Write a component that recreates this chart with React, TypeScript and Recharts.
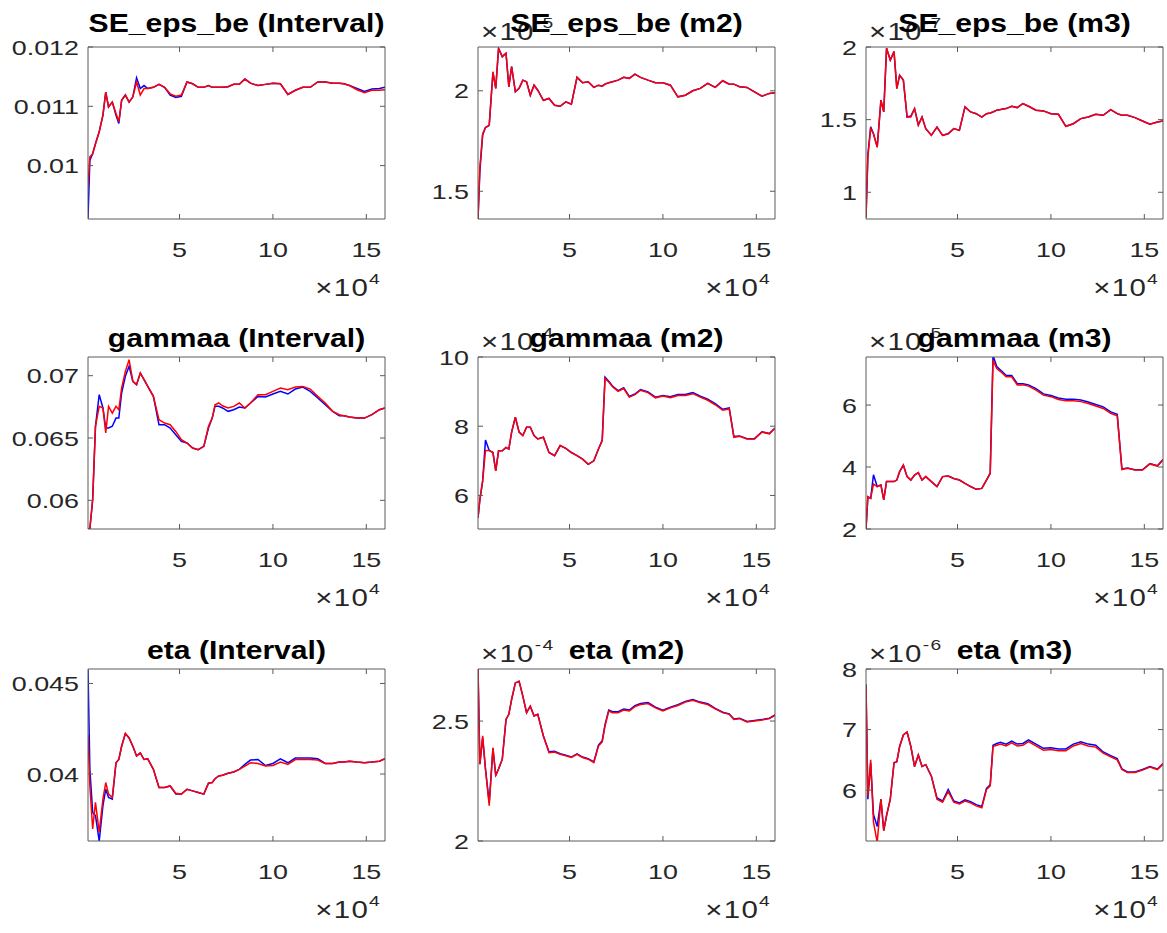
import React from 'react';
import { LineChart, Line, XAxis, YAxis } from 'recharts';

// draws, in units of 10^4
const xs = [
  0.1, 0.2, 0.35, 0.5, 0.7, 0.9, 1.05, 1.2, 1.4, 1.6,
  1.75, 1.9, 2.1, 2.3, 2.5, 2.7, 2.9, 3.1, 3.3, 3.6,
  3.9, 4.2, 4.5, 4.8, 5.1, 5.4, 5.7, 6.0, 6.3, 6.55,
  6.75, 6.9, 7.1, 7.3, 7.6, 7.9, 8.2, 8.5, 8.8, 9.2,
  9.6, 10.0, 10.4, 10.8, 11.2, 11.6, 12.0, 12.4, 12.8, 13.2,
  13.55, 13.8, 14.1, 14.5, 14.9, 15.3, 15.7, 16.0,
];
const xTicks = [5, 10, 15];
const xDomain = [0.1, 16];

// SE_eps_be
const seIntervalBlue = [
  0.00911, 0.01009, 0.0102, 0.01037, 0.01057, 0.01085, 0.01124, 0.01099, 0.01107, 0.01085,
  0.01071, 0.0111, 0.01119, 0.01107, 0.01116, 0.01148, 0.0113, 0.01135, 0.0113, 0.01132,
  0.01137, 0.01132, 0.01119, 0.01115, 0.01117, 0.01141, 0.01138, 0.01132, 0.01132, 0.01135,
  0.01132, 0.01132, 0.01132, 0.01132, 0.01133, 0.01137, 0.01137, 0.01146, 0.01139, 0.01135,
  0.01137, 0.01139, 0.01138, 0.0112, 0.01127, 0.01132, 0.01132, 0.01141, 0.01141, 0.01139,
  0.01139, 0.01138, 0.01135, 0.0113, 0.01125, 0.01129, 0.0113, 0.01132,
];
const seIntervalRed = [
  0.00964, 0.01015, 0.0102, 0.01037, 0.01057, 0.01085, 0.01124, 0.01099, 0.01107, 0.01088,
  0.01074, 0.0111, 0.01119, 0.01107, 0.01116, 0.01141, 0.01119, 0.0113, 0.0113, 0.01132,
  0.01137, 0.01132, 0.01121, 0.01117, 0.01119, 0.01141, 0.01138, 0.01132, 0.01132, 0.01135,
  0.01132, 0.01132, 0.01132, 0.01132, 0.01133, 0.01137, 0.01137, 0.01146, 0.01139, 0.01135,
  0.01137, 0.01139, 0.01138, 0.0112, 0.01127, 0.01132, 0.01132, 0.01141, 0.01141, 0.01139,
  0.01139, 0.01138, 0.01135, 0.01128, 0.01123, 0.01127, 0.01127, 0.01128,
];
const seM2Blue = [
  1.362, 1.6, 1.78, 1.817, 1.828, 2.09, 2.012, 2.21, 2.17, 2.187,
  2.02, 2.12, 1.995, 2.012, 2.053, 2.045, 1.978, 2.028, 2.003, 1.953,
  1.962, 1.928, 1.923, 1.945, 1.933, 2.067, 2.04, 2.045, 2.017, 2.028,
  2.023, 2.033, 2.04, 2.045, 2.053, 2.067, 2.062, 2.083, 2.067, 2.053,
  2.04, 2.04, 2.028, 1.97, 1.978, 2.0, 2.012, 2.037, 2.017, 2.05,
  2.033, 2.033, 2.02, 2.017, 1.995, 1.973, 1.987, 1.99,
];
const seM2Red = [
  1.362, 1.62, 1.787, 1.817, 1.828, 2.095, 2.012, 2.212, 2.17, 2.187,
  2.02, 2.12, 1.995, 2.012, 2.053, 2.045, 1.978, 2.028, 2.003, 1.953,
  1.962, 1.928, 1.923, 1.945, 1.933, 2.067, 2.04, 2.045, 2.017, 2.028,
  2.023, 2.033, 2.04, 2.045, 2.053, 2.067, 2.062, 2.083, 2.067, 2.053,
  2.04, 2.04, 2.028, 1.97, 1.978, 2.0, 2.012, 2.037, 2.017, 2.05,
  2.033, 2.033, 2.02, 2.017, 1.995, 1.973, 1.987, 1.99,
];
const seM3Blue = [
  0.827, 1.26, 1.45, 1.403, 1.311, 1.634, 1.553, 1.991, 1.91, 1.968,
  1.714, 1.806, 1.772, 1.518, 1.525, 1.576, 1.465, 1.518, 1.438, 1.392,
  1.449, 1.392, 1.403, 1.438, 1.426, 1.588, 1.553, 1.541, 1.518, 1.541,
  1.546, 1.553, 1.565, 1.569, 1.576, 1.592, 1.583, 1.611, 1.592, 1.565,
  1.56, 1.541, 1.537, 1.454, 1.472, 1.507, 1.518, 1.537, 1.53, 1.569,
  1.541, 1.53, 1.53, 1.514, 1.491, 1.468, 1.484, 1.491,
];
const seM3Red = [
  0.827, 1.242, 1.438, 1.403, 1.311, 1.634, 1.553, 1.991, 1.91, 1.968,
  1.714, 1.806, 1.772, 1.518, 1.518, 1.576, 1.461, 1.518, 1.438, 1.392,
  1.449, 1.392, 1.403, 1.438, 1.426, 1.588, 1.553, 1.541, 1.518, 1.541,
  1.546, 1.553, 1.565, 1.569, 1.576, 1.592, 1.583, 1.611, 1.592, 1.565,
  1.56, 1.541, 1.537, 1.454, 1.472, 1.507, 1.518, 1.537, 1.53, 1.569,
  1.541, 1.53, 1.53, 1.514, 1.491, 1.468, 1.484, 1.491,
];

// gammaa
const gaIntervalBlue = [
  0.0577, 0.0577, 0.06005, 0.06594, 0.06848, 0.06741, 0.0658, 0.0658, 0.06594, 0.0666,
  0.0666, 0.06861, 0.06995, 0.07075, 0.06955, 0.06928, 0.07021, 0.06968, 0.06914, 0.06834,
  0.06607, 0.06607, 0.0658, 0.06527, 0.06473, 0.0646, 0.0642, 0.06406, 0.06433, 0.0658,
  0.0666, 0.06754, 0.06754, 0.06741, 0.06714, 0.06727, 0.06749, 0.06741, 0.06781, 0.06834,
  0.06829, 0.06853, 0.06874, 0.06853, 0.06893, 0.06909, 0.06874, 0.06821, 0.06767, 0.06714,
  0.06679, 0.06679, 0.06668, 0.0666, 0.0666, 0.06687, 0.06727, 0.06741,
];
const gaIntervalRed = [
  0.0577, 0.05778, 0.06005, 0.06594, 0.06754, 0.06741, 0.0654, 0.06754, 0.067, 0.06754,
  0.06727, 0.06901, 0.07035, 0.07128, 0.06955, 0.06928, 0.07021, 0.06968, 0.06914, 0.06834,
  0.06647, 0.0662, 0.06607, 0.06553, 0.06487, 0.0646, 0.0642, 0.06406, 0.06433, 0.06594,
  0.0666, 0.06767, 0.06781, 0.06759, 0.06741, 0.06754, 0.06781, 0.06741, 0.06781, 0.06848,
  0.06848, 0.06874, 0.06901, 0.06888, 0.06909, 0.06914, 0.06893, 0.06834, 0.06781, 0.06714,
  0.06687, 0.06679, 0.06668, 0.0666, 0.0666, 0.06687, 0.06727, 0.06741,
];
const gaM2Blue = [
  5.35, 5.88, 6.42, 7.6, 7.3, 7.24, 6.71, 7.29, 7.29, 7.39,
  7.34, 7.83, 8.26, 7.83, 7.73, 7.97, 7.97, 7.73, 7.63, 7.68,
  7.24, 7.15, 7.44, 7.36, 7.24, 7.15, 7.05, 6.9, 7.0, 7.34,
  7.6, 9.42, 9.3, 9.16, 9.03, 9.11, 8.86, 8.93, 9.06, 8.99,
  8.84, 8.89, 8.85, 8.92, 8.92, 8.97, 8.87, 8.78, 8.65, 8.49,
  8.53, 7.7, 7.72, 7.64, 7.64, 7.84, 7.79, 7.95,
];
const gaM2Red = [
  5.35, 5.88, 6.42, 7.3, 7.3, 7.24, 6.71, 7.29, 7.29, 7.39,
  7.34, 7.83, 8.26, 7.83, 7.73, 7.97, 7.97, 7.73, 7.63, 7.68,
  7.24, 7.15, 7.44, 7.36, 7.24, 7.15, 7.05, 6.9, 7.0, 7.34,
  7.58, 9.38, 9.28, 9.14, 9.01, 9.09, 8.84, 8.91, 9.04, 8.97,
  8.82, 8.87, 8.82, 8.89, 8.89, 8.94, 8.84, 8.75, 8.62, 8.46,
  8.5, 7.68, 7.71, 7.63, 7.63, 7.83, 7.78, 7.94,
];
const gaM3Blue = [
  1.99, 3.04, 2.99, 3.75, 3.37, 3.42, 2.94, 3.53, 3.53, 3.53,
  3.58, 3.85, 4.06, 3.69, 3.58, 3.74, 3.82, 3.58, 3.69, 3.53,
  3.37, 3.69, 3.71, 3.63, 3.58, 3.47, 3.37, 3.28, 3.31, 3.58,
  3.8, 7.6, 7.24, 7.13, 6.96, 6.95, 6.69, 6.69, 6.65, 6.53,
  6.36, 6.31, 6.23, 6.19, 6.19, 6.16, 6.1, 6.02, 5.94, 5.78,
  5.7, 3.94, 3.97, 3.91, 3.91, 4.11, 4.04, 4.24,
];
const gaM3Red = [
  1.99, 3.04, 2.99, 3.45, 3.37, 3.42, 2.94, 3.53, 3.53, 3.53,
  3.58, 3.85, 4.06, 3.69, 3.58, 3.74, 3.82, 3.58, 3.69, 3.53,
  3.37, 3.69, 3.71, 3.63, 3.58, 3.47, 3.37, 3.28, 3.31, 3.58,
  3.8, 7.45, 7.18, 7.08, 6.91, 6.91, 6.65, 6.65, 6.61, 6.48,
  6.32, 6.27, 6.18, 6.14, 6.14, 6.11, 6.05, 5.97, 5.89, 5.73,
  5.65, 3.92, 3.96, 3.9, 3.9, 4.1, 4.03, 4.23,
];

// eta
const etaIntervalBlue = [
  0.04577, 0.04026, 0.03788, 0.0377, 0.03631, 0.03825, 0.03916, 0.0387, 0.03861, 0.04062,
  0.0408, 0.04153, 0.04223, 0.04199, 0.04153, 0.04099, 0.04117, 0.0408, 0.04084, 0.04026,
  0.03925, 0.03925, 0.03934, 0.03889, 0.03889, 0.03916, 0.03907, 0.03898, 0.03889, 0.03949,
  0.03953, 0.03974, 0.03989, 0.03993, 0.04004, 0.04011, 0.04026, 0.04053, 0.04077, 0.0408,
  0.04047, 0.04058, 0.04084, 0.04062, 0.04088, 0.04088, 0.04089, 0.04084, 0.04058, 0.04058,
  0.04066, 0.04066, 0.04071, 0.04066, 0.04062, 0.04066, 0.04071, 0.04084,
];
const etaIntervalRed = [
  0.04217, 0.03934, 0.03697, 0.03843, 0.03679, 0.03861, 0.03953, 0.03889, 0.0387, 0.04062,
  0.0408, 0.04153, 0.04223, 0.04199, 0.04153, 0.04099, 0.04117, 0.0408, 0.04084, 0.04026,
  0.03925, 0.03925, 0.03934, 0.03894, 0.03889, 0.03916, 0.03907, 0.03898, 0.03889, 0.03949,
  0.03953, 0.03974, 0.03989, 0.03993, 0.04004, 0.04011, 0.04026, 0.04044, 0.04062, 0.04058,
  0.04044, 0.04047, 0.04066, 0.04053, 0.0408, 0.0408, 0.0408, 0.04077, 0.04058, 0.04058,
  0.04066, 0.04066, 0.04071, 0.04066, 0.04062, 0.04066, 0.04071, 0.04084,
];
const etaM2Blue = [
  2.72, 2.32, 2.43, 2.3, 2.16, 2.385, 2.275, 2.3, 2.341, 2.507,
  2.528, 2.59, 2.659, 2.666, 2.604, 2.535, 2.562, 2.521, 2.528, 2.438,
  2.372, 2.374, 2.364, 2.358, 2.35, 2.363, 2.35, 2.343, 2.33, 2.4,
  2.418, 2.485, 2.546, 2.539, 2.539, 2.55, 2.546, 2.564, 2.573, 2.577,
  2.558, 2.545, 2.558, 2.568, 2.582, 2.59, 2.579, 2.572, 2.553, 2.537,
  2.53, 2.509, 2.512, 2.498, 2.502, 2.506, 2.512, 2.526,
];
const etaM2Red = [
  2.717, 2.32, 2.438, 2.3, 2.147, 2.389, 2.271, 2.3, 2.341, 2.507,
  2.528, 2.59, 2.659, 2.666, 2.604, 2.535, 2.562, 2.521, 2.528, 2.438,
  2.368, 2.371, 2.361, 2.355, 2.348, 2.361, 2.348, 2.341, 2.327, 2.396,
  2.413, 2.479, 2.542, 2.535, 2.535, 2.546, 2.542, 2.56, 2.569, 2.573,
  2.555, 2.542, 2.555, 2.565, 2.579, 2.587, 2.576, 2.569, 2.551, 2.535,
  2.528, 2.507, 2.51, 2.496, 2.5, 2.504, 2.51, 2.524,
];
const etaM3Blue = [
  7.75, 5.85, 6.45, 5.6, 5.4, 5.85, 5.33, 5.58, 5.85, 6.45,
  6.47, 6.72, 6.91, 6.96, 6.72, 6.39, 6.58, 6.39, 6.42, 6.23,
  5.87, 5.82, 6.01, 5.82, 5.79, 5.84, 5.81, 5.76, 5.73, 6.03,
  6.09, 6.74, 6.77, 6.79, 6.76, 6.81, 6.76, 6.77, 6.83, 6.76,
  6.69, 6.7, 6.68, 6.68, 6.76, 6.8, 6.76, 6.74, 6.63, 6.57,
  6.52, 6.35, 6.3, 6.3, 6.34, 6.39, 6.35, 6.44,
];
const etaM3Red = [
  7.72, 5.9, 6.5, 5.47, 5.14, 5.85, 5.33, 5.58, 5.85, 6.45,
  6.47, 6.72, 6.91, 6.96, 6.72, 6.39, 6.58, 6.39, 6.42, 6.23,
  5.85, 5.8, 5.98, 5.8, 5.77, 5.82, 5.79, 5.74, 5.71, 6.01,
  6.07, 6.72, 6.74, 6.76, 6.73, 6.78, 6.73, 6.74, 6.8, 6.73,
  6.66, 6.67, 6.65, 6.65, 6.73, 6.77, 6.73, 6.71, 6.61, 6.55,
  6.5, 6.34, 6.29, 6.29, 6.33, 6.38, 6.34, 6.43,
];

const panels = [
  { title: 'SE_eps_be (Interval)', exp: '', blue: seIntervalBlue, red: seIntervalRed, domain: [0.0091, 0.012], ticks: [0.01, 0.011, 0.012] },
  { title: 'SE_eps_be (m2)', exp: '-5', blue: seM2Blue, red: seM2Red, domain: [1.362, 2.218], ticks: [1.5, 2] },
  { title: 'SE_eps_be (m3)', exp: '-7', blue: seM3Blue, red: seM3Red, domain: [0.816, 2.0], ticks: [1, 1.5, 2] },
  { title: 'gammaa (Interval)', exp: '', blue: gaIntervalBlue, red: gaIntervalRed, domain: [0.0577, 0.0715], ticks: [0.06, 0.065, 0.07] },
  { title: 'gammaa (m2)', exp: '-4', blue: gaM2Blue, red: gaM2Red, domain: [5.03, 10], ticks: [6, 8, 10] },
  { title: 'gammaa (m3)', exp: '-5', blue: gaM3Blue, red: gaM3Red, domain: [2, 7.55], ticks: [2, 4, 6] },
  { title: 'eta (Interval)', exp: '', blue: etaIntervalBlue, red: etaIntervalRed, domain: [0.0363, 0.0458], ticks: [0.04, 0.045] },
  { title: 'eta (m2)', exp: '-4', blue: etaM2Blue, red: etaM2Red, domain: [2, 2.717], ticks: [2, 2.5] },
  { title: 'eta (m3)', exp: '-6', blue: etaM3Blue, red: etaM3Red, domain: [5.16, 8], ticks: [6, 7, 8] },
];

const PLOT_W = 297;
const PLOT_H = 172;
const COL_LEFT = [88, 478, 866];
const ROW_TOP = [47, 357, 669];
const Y_AXIS_W = 90;
const X_AXIS_H = 50;
const TOP_AXIS_H = 1;
const RIGHT_AXIS_W = 1;
const M_TOP = 14;
const M_RIGHT = 9;

const FONT = '"Liberation Sans", Arial, Helvetica, sans-serif';
const AXIS_COLOR = '#5a5a5a';
const TEXT_COLOR = '#262626';
const TICK_FS = 21;
const TICK_SX = 1.28;

const YTick = (props: any) => {
  const { x, y, payload } = props;
  return (
    <text transform={`translate(${x},${y}) scale(${TICK_SX},1)`} textAnchor="end" dy="0.36em"
      fontSize={TICK_FS} fontFamily={FONT} fill={TEXT_COLOR}>{String(payload.value)}</text>
  );
};

const XTick = (props: any) => {
  const { x, y, payload } = props;
  return (
    <text transform={`translate(${x},${y}) scale(${TICK_SX},1)`} textAnchor="middle" dy="0.36em"
      fontSize={TICK_FS} fontFamily={FONT} fill={TEXT_COLOR}>{String(payload.value)}</text>
  );
};

const NoTick = () => <g />;

// blue is drawn against the top/right axes, red against bottom/left; both pairs share the same domains
const Panel = ({ idx }: { idx: number }) => {
  const p = panels[idx];
  const row = Math.floor(idx / 3);
  const col = idx % 3;
  const data = xs.map((x, i) => ({ x, blue: p.blue[i], red: p.red[i] }));
  return (
    <div style={{ position: 'absolute', left: COL_LEFT[col] - Y_AXIS_W, top: ROW_TOP[row] - M_TOP - TOP_AXIS_H }}>
      <LineChart width={Y_AXIS_W + PLOT_W + RIGHT_AXIS_W + M_RIGHT} height={M_TOP + TOP_AXIS_H + PLOT_H + X_AXIS_H}
        data={data} margin={{ top: M_TOP, right: M_RIGHT, bottom: 0, left: 0 }}>
        <XAxis xAxisId="b" dataKey="x" type="number" domain={xDomain} ticks={xTicks} allowDataOverflow
          interval={0} height={X_AXIS_H} tickSize={-5} tickMargin={35} stroke={AXIS_COLOR} tick={<XTick />} />
        <XAxis xAxisId="t" orientation="top" dataKey="x" type="number" domain={xDomain} ticks={xTicks}
          allowDataOverflow interval={0} height={TOP_AXIS_H} tickSize={-5} stroke={AXIS_COLOR} tick={<NoTick />} />
        <YAxis yAxisId="l" type="number" domain={p.domain} ticks={p.ticks} allowDataOverflow interval={0}
          width={Y_AXIS_W} tickSize={-5} tickMargin={14} stroke={AXIS_COLOR} tick={<YTick />} />
        <YAxis yAxisId="r" orientation="right" type="number" domain={p.domain} ticks={p.ticks} allowDataOverflow
          interval={0} width={RIGHT_AXIS_W} tickSize={-5} stroke={AXIS_COLOR} tick={<NoTick />} />
        <Line xAxisId="t" yAxisId="r" type="linear" dataKey="blue" stroke="#0000ff" strokeWidth={1.5}
          dot={false} activeDot={false} isAnimationActive={false} />
        <Line xAxisId="b" yAxisId="l" type="linear" dataKey="red" stroke="#ff0000" strokeWidth={1.5}
          dot={false} activeDot={false} isAnimationActive={false} />
      </LineChart>
    </div>
  );
};

export default function App() {
  return (
    <div style={{ position: 'absolute', left: 0, top: 0, width: 1167, height: 933, background: '#fff', overflow: 'hidden' }}>
      {panels.map((_, i) => <Panel key={i} idx={i} />)}
      <svg width={1167} height={933} style={{ position: 'absolute', left: 0, top: 0, pointerEvents: 'none' }}>
        {panels.map((p, i) => {
          const row = Math.floor(i / 3);
          const col = i % 3;
          const pl = COL_LEFT[col];
          const pt = ROW_TOP[row];
          return (
            <g key={i} fontFamily={FONT}>
              {p.exp && (
                <text transform={`translate(${pl + 3},${pt - 7}) scale(1.28,1)`} fontSize={23} letterSpacing={1} fill={TEXT_COLOR}>
                  ×10<tspan fontSize={15} dy={-12}>{p.exp}</tspan>
                </text>
              )}
              <text transform={`translate(${pl + PLOT_W / 2},${pt - (row === 0 ? 15 : 10)}) scale(1.18,1)`}
                textAnchor="middle" fontWeight="bold" fontSize={25.5} fill="#000">{p.title}</text>
              <text transform={`translate(${pl + PLOT_W - 4},${pt + PLOT_H + 77}) scale(1.28,1)`}
                textAnchor="end" fontSize={23} letterSpacing={1} fill={TEXT_COLOR}>
                ×10<tspan fontSize={15} dy={-12}>4</tspan>
              </text>
            </g>
          );
        })}
      </svg>
    </div>
  );
}
